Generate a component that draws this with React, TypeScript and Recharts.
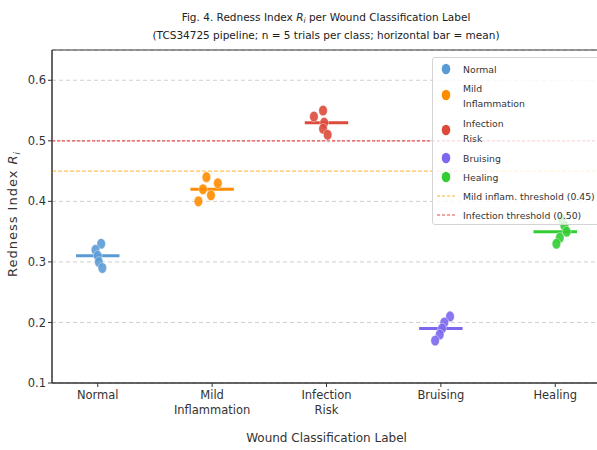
import {
  ScatterChart,
  Scatter,
  XAxis,
  YAxis,
  CartesianGrid,
  ReferenceLine,
  ReferenceArea,
} from "recharts";

const categories = ["Normal", "Mild Inflammation", "Infection Risk", "Bruising", "Healing"];
const tickLines = [["Normal"], ["Mild", "Inflammation"], ["Infection", "Risk"], ["Bruising"], ["Healing"]];
const legendLines = [["Normal"], ["Mild", "Inflammation"], ["Infection", "Risk"], ["Bruising"], ["Healing"]];
const colors = ["#5B9BD5", "#FF8C00", "#DC4B3A", "#7B68EE", "#32CD32"];

// five trials per class
const normalValues = [0.33, 0.32, 0.31, 0.3, 0.29];
const mildValues = [0.44, 0.43, 0.42, 0.41, 0.4];
const infectionValues = [0.55, 0.54, 0.53, 0.52, 0.51];
const bruisingValues = [0.21, 0.2, 0.19, 0.18, 0.17];
const healingValues = [0.37, 0.36, 0.35, 0.34, 0.33];

// horizontal strip offsets of each trial (category units)
const normalJitter = [0.03, -0.02, 0.0, 0.01, 0.04];
const mildJitter = [-0.05, 0.05, -0.08, -0.01, -0.12];
const infectionJitter = [-0.03, -0.11, -0.02, -0.03, 0.01];
const bruisingJitter = [0.08, 0.03, 0.01, -0.01, -0.05];
const healingJitter = [0.06, 0.08, 0.1, 0.04, 0.01];

const yTicks = [0.1, 0.2, 0.3, 0.4, 0.5, 0.6];
const mildThreshold = 0.45;
const infectionThreshold = 0.5;

const allValues = [normalValues, mildValues, infectionValues, bruisingValues, healingValues];
const allJitter = [normalJitter, mildJitter, infectionJitter, bruisingJitter, healingJitter];

const series = allValues.map((vals, idx) => ({
  name: categories[idx],
  color: colors[idx],
  mean: vals.reduce((a, b) => a + b, 0) / vals.length,
  points: vals.map((v, i) => ({ x: idx + allJitter[idx][i], y: v })),
}));

const FONT = "DejaVu Sans, sans-serif";
const BAR_HALF = 0.19;

function Dot(props: any) {
  const { cx, cy, fill } = props;
  return <ellipse cx={cx} cy={cy} rx={4.3} ry={5.3} fill={fill} fillOpacity={0.9} stroke="#fff" strokeWidth={0.4} />;
}

function XTick(props: any) {
  const { x, y, payload } = props;
  const lines = tickLines[payload.value] || [];
  return (
    <text x={x} y={y} textAnchor="middle" fontFamily={FONT} fontSize={11.5} fill="#333">
      {lines.map((l, i) => (
        <tspan key={i} x={x} dy={i === 0 ? 10 : 15}>
          {l}
        </tspan>
      ))}
    </text>
  );
}

function LegendBox() {
  const rows: { y: number; lines: string[]; color: string; kind: string }[] = [];
  const ys = [11, 37, 72, 100, 119];
  legendLines.forEach((l, i) => rows.push({ y: ys[i], lines: l, color: colors[i], kind: "dot" }));
  rows.push({ y: 138, lines: ["Mild inflam. threshold (0.45)"], color: "#FFB030", kind: "line" });
  rows.push({ y: 157, lines: ["Infection threshold (0.50)"], color: "#F04848", kind: "line" });
  return (
    <div
      style={{
        position: "absolute",
        left: 432,
        top: 57,
        width: 170,
        height: 168,
        background: "rgba(255,255,255,0.8)",
        border: "1px solid #d4d4d4",
        borderRadius: 3,
        boxSizing: "border-box",
      }}
    >
      <svg width={170} height={168} style={{ display: "block" }}>
        {rows.map((r, i) => (
          <g key={i}>
            {r.kind === "dot" ? (
              <ellipse cx={13} cy={r.y} rx={4.3} ry={5.3} fill={r.color} />
            ) : (
              <line x1={4} x2={23} y1={r.y} y2={r.y} stroke={r.color} strokeWidth={1.2} strokeDasharray="3 2" />
            )}
            <text x={30} y={r.y - (r.lines.length - 1) * 7} fontFamily={FONT} fontSize={9.3} fill="#333" dominantBaseline="central">
              {r.lines.map((l, j) => (
                <tspan key={j} x={30} dy={j === 0 ? 0 : 15}>
                  {l}
                </tspan>
              ))}
            </text>
          </g>
        ))}
      </svg>
    </div>
  );
}

export default function App() {
  return (
    <div style={{ position: "absolute", left: 0, top: 0, width: 597, height: 450, overflow: "hidden", background: "#fff" }}>
      <ScatterChart width={610} height={450} margin={{ top: 50, right: 9, bottom: 0, left: 0 }}>
        <CartesianGrid vertical={false} stroke="#cfcfcf" strokeDasharray="4 3" />
        <XAxis
          type="number"
          dataKey="x"
          domain={[-0.4, 4.4]}
          ticks={[0, 1, 2, 3, 4]}
          allowDataOverflow
          height={67}
          tick={<XTick />}
          tickLine={{ stroke: "#333" }}
          tickSize={4}
          axisLine={{ stroke: "#333" }}
          label={{ value: "Wound Classification Label", position: "insideBottom", offset: 8, fontFamily: FONT, fontSize: 12, fill: "#333" }}
        />
        <YAxis
          type="number"
          dataKey="y"
          domain={[0.1, 0.65]}
          ticks={yTicks}
          allowDataOverflow
          width={52}
          tick={{ fontFamily: FONT, fontSize: 11.5, fill: "#333" }}
          tickFormatter={(v: number) => v.toFixed(1)}
          tickLine={{ stroke: "#333" }}
          tickSize={4}
          axisLine={{ stroke: "#333" }}
        />
        <ReferenceArea x1={-0.4} x2={4.4} y1={0.1} y2={0.65} fill="none" stroke="#333" strokeWidth={1} />
        <ReferenceLine y={mildThreshold} stroke="#FFB030" strokeWidth={1} strokeDasharray="4 2" />
        <ReferenceLine y={infectionThreshold} stroke="#F04848" strokeWidth={1.2} strokeDasharray="3 2" />
        {series.map((s, i) => (
          <ReferenceLine
            key={"m" + i}
            segment={[
              { x: i - BAR_HALF, y: s.mean },
              { x: i + BAR_HALF, y: s.mean },
            ]}
            stroke={s.color}
            strokeWidth={3}
          />
        ))}
        {series.map((s) => (
          <Scatter key={s.name} name={s.name} data={s.points} fill={s.color} shape={<Dot />} isAnimationActive={false} />
        ))}
      </ScatterChart>
      <svg width={597} height={450} style={{ position: "absolute", left: 0, top: 0, pointerEvents: "none" }}>
        <text x={326} y={21} textAnchor="middle" fontFamily={FONT} fontSize={10.5} fill="#222">
          Fig. 4. Redness Index <tspan fontStyle="italic">R</tspan>
          <tspan fontStyle="italic" fontSize={7.5} dy={2}>i</tspan>
          <tspan dy={-2}> per Wound Classification Label</tspan>
        </text>
        <text x={326} y={39} textAnchor="middle" fontFamily={FONT} fontSize={10.5} fill="#222">
          (TCS34725 pipeline; n = 5 trials per class; horizontal bar = mean)
        </text>
        <text
          transform="translate(17,214) rotate(-90)"
          textAnchor="middle"
          fontFamily={FONT}
          fontSize={13}
          letterSpacing={1}
          fill="#333"
        >
          Redness Index <tspan fontStyle="italic">R</tspan>
          <tspan fontStyle="italic" fontSize={9} dy={3}>i</tspan>
        </text>
      </svg>
      <LegendBox />
    </div>
  );
}
